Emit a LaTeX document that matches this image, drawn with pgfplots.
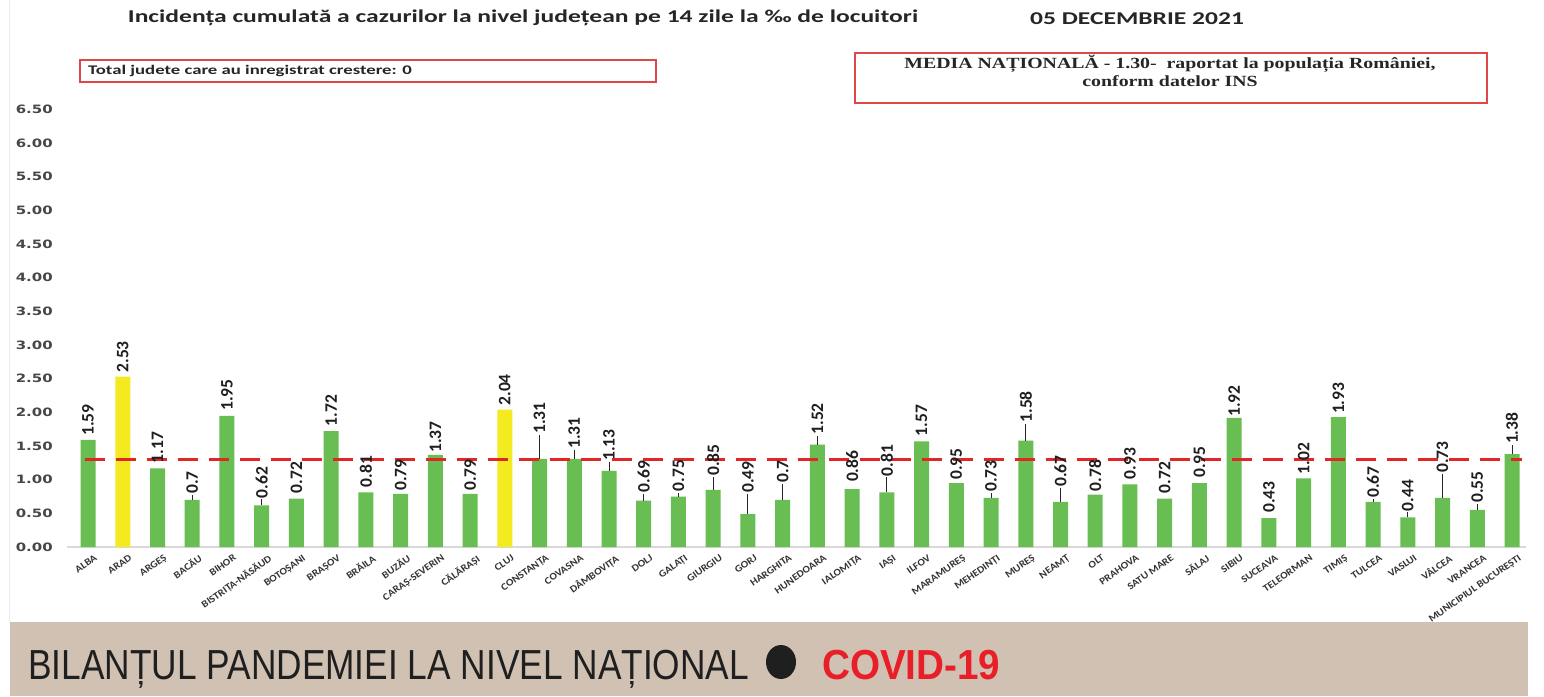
\documentclass[border=0pt]{standalone}
\usepackage{fontspec}
\usepackage{pgfplots}
\usepackage{pgfplotstable}
\pgfplotsset{compat=1.18}
\setmainfont{Carlito}
\newfontfamily\titlefont[FakeStretch=1.42]{Carlito}
\newfontfamily\tickfont[FakeStretch=1.1]{Carlito}
\newfontfamily\yfont[FakeStretch=1.3]{DejaVu Sans}
\newfontfamily\valfont{Carlito}
\newfontfamily\serifbox[FakeStretch=1.28]{Liberation Serif}
\newfontfamily\bannerfont[FakeStretch=0.84]{Liberation Sans}
\newfontfamily\covidfont[FakeStretch=0.92]{Liberation Sans}
\definecolor{bargreen}{RGB}{104,190,82}
\definecolor{baryellow}{RGB}{243,235,32}
\definecolor{dashred}{RGB}{224,38,38}
\definecolor{boxred}{RGB}{222,72,72}
\definecolor{bannerbg}{RGB}{208,193,179}
\definecolor{covidred}{RGB}{232,30,40}

\pgfplotstableread{
x y lab off e
0 1.59 1.59 4 0
1 2.53 2.53 4 0
2 1.17 1.17 5 0
3 0.70 0.7 6 0.074
4 1.95 1.95 5 0
5 0.62 0.62 7 0.089
6 0.72 0.72 5 0
7 1.72 1.72 5 0
8 0.81 0.81 5 0
9 0.79 0.79 3 0
10 1.37 1.37 2 0
11 0.79 0.79 3 0
12 2.04 2.04 4 0
13 1.31 1.31 25 0.357
14 1.31 1.31 10 0.134
15 1.13 1.13 10 0.134
16 0.69 0.69 8 0.104
17 0.75 0.75 5 0.059
18 0.85 0.85 14 0.193
19 0.49 0.49 21 0.297
20 0.70 0.7 17 0.238
21 1.52 1.52 10 0.134
22 0.86 0.86 7 0
23 0.81 0.81 16 0.223
24 1.57 1.57 5 0
25 0.95 0.95 3 0
26 0.73 0.73 6 0.074
27 1.58 1.58 18 0.253
28 0.67 0.67 15 0.208
29 0.78 0.78 3 0
30 0.93 0.93 5 0
31 0.72 0.72 5 0
32 0.95 0.95 5 0
33 1.92 1.92 1 0
34 0.43 0.43 5 0
35 1.02 1.02 4 0
36 1.93 1.93 3 0
37 0.67 0.67 4 0.045
38 0.44 0.44 6 0.074
39 0.73 0.73 25 0.357
40 0.55 0.55 7 0.089
41 1.38 1.38 10 0.134
}\alltab

\pgfplotstableread{
x y
0 1.59
2 1.17
3 0.70
4 1.95
5 0.62
6 0.72
7 1.72
8 0.81
9 0.79
10 1.37
11 0.79
13 1.31
14 1.31
15 1.13
16 0.69
17 0.75
18 0.85
19 0.49
20 0.70
21 1.52
22 0.86
23 0.81
24 1.57
25 0.95
26 0.73
27 1.58
28 0.67
29 0.78
30 0.93
31 0.72
32 0.95
33 1.92
34 0.43
35 1.02
36 1.93
37 0.67
38 0.44
39 0.73
40 0.55
41 1.38
}\greentab

\pgfplotstableread{
x y
1 2.53
12 2.04
}\yellowtab

\begin{document}
\begin{tikzpicture}[x=1pt,y=1pt]
\useasboundingbox (0,0) rectangle (1544,696);
\fill[white] (0,0) rectangle (1544,696);
\draw[black!8, line width=1pt] (9,74) -- (9,696);
\fill[bannerbg] (10,0) rectangle (1528,74);

% titles
\node[font=\titlefont\bfseries\fontsize{18}{18}\selectfont, text=black!85] at (523,678) {Incidența cumulată a cazurilor la nivel județean pe 14 zile la ‰ de locuitori};
\node[font=\titlefont\bfseries\fontsize{18}{18}\selectfont, text=black!85] at (1137,677) {05 DECEMBRIE 2021};

% boxes
\draw[boxred, line width=1.6pt] (80,636) rectangle (656,614);
\node[anchor=west, font=\titlefont\bfseries\fontsize{13.2}{13.2}\selectfont, text=black!85, inner sep=0pt] at (88,625) {Total judete care au inregistrat crestere: 0};
\draw[boxred, line width=1.6pt] (855,643) rectangle (1487,593);
\node[font=\serifbox\bfseries\fontsize{15.5}{15.5}\selectfont, text=black!85] at (1170,632) {MEDIA NAȚIONALĂ - 1.30-\ \ raportat la populația României,};
\node[font=\serifbox\bfseries\fontsize{15.5}{15.5}\selectfont, text=black!85] at (1170,615) {conform datelor INS};

% banner
\node[anchor=base west, inner sep=0pt, font=\bannerfont\fontsize{42}{42}\selectfont, text=black!88] at (28,17) {BILANȚUL PANDEMIEI LA NIVEL NAȚIONAL};
\fill[black!88] (781,34) ellipse [x radius=15, y radius=17];
\node[anchor=base west, inner sep=0pt, font=\covidfont\bfseries\fontsize{42}{42}\selectfont, text=covidred] at (822,17) {COVID-19};

\begin{axis}[
  at={(67.2pt,149pt)}, anchor=south west,
  scale only axis, width=1458.7pt, height=437.5pt,
  xmin=-0.6, xmax=41.4, ymin=0, ymax=6.5,
  separate axis lines,
  axis x line*=bottom, axis y line*=left,
  x axis line style={-, draw=black!15, line width=1.2pt},
  y axis line style={draw=none},
  tick style={draw=none}, major tick length=0pt,
  ytick={0,0.5,1,1.5,2,2.5,3,3.5,4,4.5,5,5.5,6,6.5},
  y tick label style={/pgf/number format/fixed, /pgf/number format/fixed zerofill, /pgf/number format/precision=2, /pgf/number format/assume math mode=true},
  yticklabel style={font=\yfont\bfseries\fontsize{11.5}{11.5}\selectfont, text=black!72, anchor=east, xshift=-11pt},
  xtick={0,...,41},
  xticklabels={ALBA, ARAD, ARGEȘ, BACĂU, BIHOR, BISTRIȚA-NĂSĂUD, BOTOȘANI, BRAȘOV, BRĂILA, BUZĂU, CARAȘ-SEVERIN, CĂLĂRAȘI, CLUJ, CONSTANȚA, COVASNA, DÂMBOVIȚA, DOLJ, GALAȚI, GIURGIU, GORJ, HARGHITA, HUNEDOARA, IALOMIȚA, IAȘI, ILFOV, MARAMUREȘ, MEHEDINȚI, MUREȘ, NEAMȚ, OLT, PRAHOVA, SATU MARE, SĂLAJ, SIBIU, SUCEAVA, TELEORMAN, TIMIȘ, TULCEA, VASLUI, VÂLCEA, VRANCEA, MUNICIPIUL BUCUREȘTI},
  xticklabel style={rotate=35, anchor=north east, font=\tickfont\bfseries\fontsize{10}{10}\selectfont, text=black!80, inner sep=0pt, xshift=1pt, yshift=-9pt},
  clip=false,
]
\addplot[ybar, bar width=15pt, bar shift=0pt, fill=bargreen, draw=none] table[x=x,y=y]{\greentab};
\addplot[ybar, bar width=15pt, bar shift=0pt, fill=baryellow, draw=none] table[x=x,y=y]{\yellowtab};
\addplot[sharp plot, dashred, line width=3.6pt, dash pattern=on 20pt off 11pt, forget plot] coordinates {(-0.1,1.3) (41.3,1.3)};
\addplot[draw=none, mark=none, forget plot, error bars/.cd, y dir=plus, y explicit, error mark=none, error bar style={draw=black!85, line width=0.9pt}] table[x=x,y=y,y error=e]{\alltab};
\addplot[draw=none, mark=none, forget plot,
  nodes near coords, point meta=explicit symbolic,
  visualization depends on={\thisrow{off} \as \off},
  every node near coord/.append style={font=\valfont\bfseries\fontsize{17.5}{17.5}\selectfont, text=black!88, yshift=\off pt, rotate=90, anchor=west, inner sep=0pt}
] table[x=x,y=y,meta=lab]{\alltab};
\end{axis}
\end{tikzpicture}
\end{document}
